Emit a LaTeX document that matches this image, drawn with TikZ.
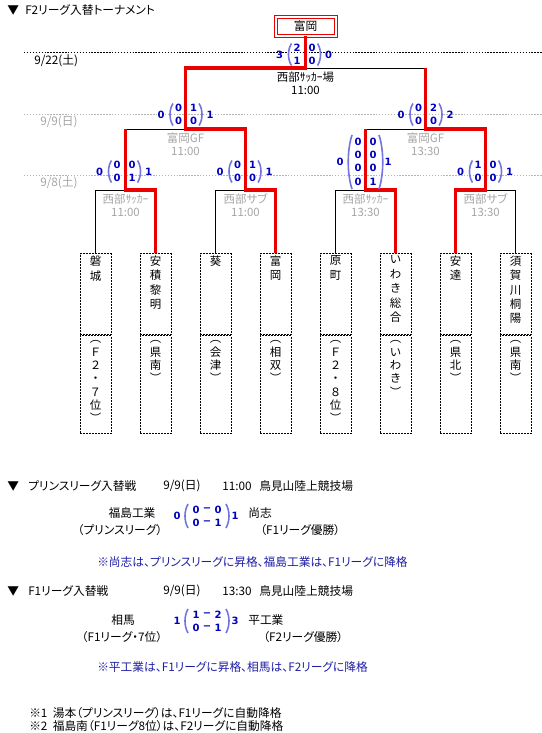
\documentclass[tikz,border=0pt]{standalone}
\usepackage{fontspec}
\setmainfont{Noto Sans CJK JP}[RawFeature=+palt]
\newfontfamily\numfont{DejaVu Sans}
\usetikzlibrary{positioning,calc}
\definecolor{ink}{RGB}{0,0,0}
\definecolor{grey}{RGB}{165,165,165}
\definecolor{faint}{RGB}{180,180,180}
\definecolor{hi}{RGB}{0,0,190}
\definecolor{bow}{RGB}{115,115,225}
\definecolor{note}{RGB}{30,30,165}
\definecolor{winred}{RGB}{235,0,0}

% two-row score: prefix, x, y, left total, row 1 (l r), row 2 (l r), right total
\newcommand{\halfscore}[9]{%
 \node[goal] (#1-l) at ({#2-25},#3) {#4};
 \node[goal] (#1-a) at ({#2-7.5},{#3-6.5}) {#5};
 \node[goal] (#1-b) at ({#2+7.5},{#3-6.5}) {#6};
 \node[goal] (#1-c) at ({#2-7.5},{#3+6.5}) {#7};
 \node[goal] (#1-d) at ({#2+7.5},{#3+6.5}) {#8};
 \node[goal] (#1-r) at ({#2+24},#3) {#9};
 \draw[bow] ({#2-13},{#3-11}) .. controls ({#2-17},{#3-5}) and ({#2-17},{#3+5}) .. ({#2-13},{#3+11});
 \draw[bow] ({#2+13},{#3-11}) .. controls ({#2+17},{#3-5}) and ({#2+17},{#3+5}) .. ({#2+13},{#3+11});
}
% replay score, rows written as "a - b"
\newcommand{\pairscore}[9]{%
 \node[goal] (#1-l) at ({#2-30},#3) {#4};
 \node[goal] (#1-a) at ({#2-11},{#3-6.5}) {#5};
 \node[goal] (#1-m) at (#2,{#3-6.5}) {−};
 \node[goal] (#1-b) at ({#2+11},{#3-6.5}) {#6};
 \node[goal] (#1-c) at ({#2-11},{#3+6.5}) {#7};
 \node[goal] (#1-n) at (#2,{#3+6.5}) {−};
 \node[goal] (#1-d) at ({#2+11},{#3+6.5}) {#8};
 \node[goal] (#1-r) at ({#2+28},#3) {#9};
 \draw[bow] ({#2-19},{#3-12}) .. controls ({#2-23},{#3-5}) and ({#2-23},{#3+5}) .. ({#2-19},{#3+12});
 \draw[bow] ({#2+19},{#3-12}) .. controls ({#2+23},{#3-5}) and ({#2+23},{#3+5}) .. ({#2+19},{#3+12});
}

\begin{document}
\begin{tikzpicture}[x=0.75pt,y=-0.75pt,font=\fontsize{8.8}{10.5}\selectfont,
 every node/.style={inner sep=0pt},
 winner/.style={draw=winred,line width=2.4pt},
 loser/.style={draw=ink,line width=0.75pt},
 dateline/.style={line width=0.75pt,dash pattern=on 1.1pt off 1.1pt},
 namebox/.style={draw=ink,line width=0.75pt,dash pattern=on 1.5pt off 0.75pt,
   minimum width=23.25pt,minimum height=60.75pt,anchor=north},
 areabox/.style={namebox,minimum height=73.5pt},
 vtext/.style={align=center,font=\fontsize{8.6}{10.8}\selectfont},
 vsub/.style={align=center,font=\fontsize{8.6}{10}\selectfont},
 venue/.style={text=grey,align=center,font=\fontsize{8.6}{9.75}\selectfont},
 goal/.style={text=hi,font=\numfont\bfseries\fontsize{7.5}{8}\selectfont},
 bow/.style={draw=bow,line width=1.2pt},
 final/.style={draw=winred,line width=0.75pt,double=white,double distance=1.5pt,
   minimum width=45pt,minimum height=14.25pt}]
\useasboundingbox (0,0) rectangle (542,733);

% heading
\node[anchor=west] (mark) at (7,10) {▼};
\node[anchor=west] (title) at (25,10) {F2リーグ入替トーナメント};

% round days
\draw[dateline,ink] (24,52) -- (542,52);
\draw[dateline,faint] (24,114) -- (542,114);
\draw[dateline,faint] (24,175) -- (542,175);
\node[anchor=west] (d3) at (34,61) {9/22(土)};
\node[anchor=west,text=grey] (d2) at (40,122) {9/9(日)};
\node[anchor=west,text=grey] (d1) at (40,183) {9/8(土)};

% teams
\node[namebox] (t1) at (95.5,253) {};
\node[areabox,below=0pt of t1] (a1) {};
\node[vtext,below=2pt of t1.north] (n1) {磐\\城};
\node[vsub,below=4pt of a1.north] (p1) {︵\\Ｆ\\２\\・\\７\\位\\︶};
\node[namebox] (t2) at (155.5,253) {};
\node[areabox,below=0pt of t2] (a2) {};
\node[vtext,below=2pt of t2.north] (n2) {安\\積\\黎\\明};
\node[vsub,below=4pt of a2.north] (p2) {︵\\県\\南\\︶};
\node[namebox] (t3) at (215.5,253) {};
\node[areabox,below=0pt of t3] (a3) {};
\node[vtext,below=2pt of t3.north] (n3) {葵};
\node[vsub,below=4pt of a3.north] (p3) {︵\\会\\津\\︶};
\node[namebox] (t4) at (275.5,253) {};
\node[areabox,below=0pt of t4] (a4) {};
\node[vtext,below=2pt of t4.north] (n4) {富\\岡};
\node[vsub,below=4pt of a4.north] (p4) {︵\\相\\双\\︶};
\node[namebox] (t5) at (335.5,253) {};
\node[areabox,below=0pt of t5] (a5) {};
\node[vtext,below=2pt of t5.north] (n5) {原\\町};
\node[vsub,below=4pt of a5.north] (p5) {︵\\Ｆ\\２\\・\\８\\位\\︶};
\node[namebox] (t6) at (395.5,253) {};
\node[areabox,below=0pt of t6] (a6) {};
\node[vtext,below=2pt of t6.north] (n6) {い\\わ\\き\\総\\合};
\node[vsub,below=4pt of a6.north] (p6) {︵\\い\\わ\\き\\︶};
\node[namebox] (t7) at (455.5,253) {};
\node[areabox,below=0pt of t7] (a7) {};
\node[vtext,below=2pt of t7.north] (n7) {安\\達};
\node[vsub,below=4pt of a7.north] (p7) {︵\\県\\北\\︶};
\node[namebox] (t8) at (515.5,253) {};
\node[areabox,below=0pt of t8] (a8) {};
\node[vtext,below=2pt of t8.north] (n8) {須\\賀\\川\\桐\\陽};
\node[vsub,below=4pt of a8.north] (p8) {︵\\県\\南\\︶};

% champion
\node[final] (champ) at (305.5,26) {富岡};

% match points
\coordinate (q1) at (125.5,190);
\coordinate (q2) at (245.5,190);
\coordinate (q3) at (365.5,190);
\coordinate (q4) at (485.5,190);
\coordinate (s1) at (185.5,129);
\coordinate (s2) at (425.5,129);
\coordinate (f) at (305.5,68);

% beaten sides
\draw[loser] (t1.north) |- (q1);
\draw[loser] (t3.north) |- (q2);
\draw[loser] (t5.north) |- (q3);
\draw[loser] (t8.north) |- (q4);
\draw[loser] (q1 |- s1) -- (s1);
\draw[loser] (q3 |- s2) -- (s2);
\draw[loser] (f) -- (f -| s2);
% way of the winners
\draw[winner] (t2.north) |- (q1) -- (q1 |- s1);
\draw[winner] (t4.north) |- (q2) |- (s1) |- (f) -- (champ.south);
\draw[winner] (t6.north) |- (q3) -- (q3 |- s2);
\draw[winner] (t7.north) |- (q4) |- (s2) -- (s2 |- f);

% venues
\node[venue,text=ink] (v0) at (305.5,83.5) {西部ｻｯｶｰ場\\11:00};
\node[venue] (v1) at (185.5,144) {富岡GF\\11:00};
\node[venue] (v2) at (425.5,144) {富岡GF\\13:30};
\node[venue] (v3) at (125.5,205.5) {西部ｻｯｶｰ\\11:00};
\node[venue] (v4) at (245.5,205.5) {西部サブ\\11:00};
\node[venue] (v5) at (365.5,205.5) {西部ｻｯｶｰ\\13:30};
\node[venue] (v6) at (485.5,205.5) {西部サブ\\13:30};

% scores
\halfscore{sf}{304.5}{54.5}{3}{2}{0}{1}{0}{0}
\halfscore{sa}{186}{114.5}{0}{0}{1}{0}{0}{1}
\halfscore{sb}{426}{114.5}{0}{0}{2}{0}{0}{2}
\halfscore{qa}{124.5}{171.5}{0}{0}{0}{0}{1}{1}
\halfscore{qb}{245}{171.5}{0}{0}{1}{0}{0}{1}
\halfscore{qd}{485.5}{171.5}{0}{1}{0}{0}{0}{1}
\node[goal] (qc-l) at (340,162) {0};
\foreach \r/\a/\b [count=\k] in {142/0/0,155/0/0,168/0/0,182/0/1}{
 \node[goal] (qc-a\k) at (358,\r) {\a};
 \node[goal] (qc-b\k) at (373,\r) {\b};
}
\node[goal] (qc-r) at (388,162) {1};
\draw[bow] (352,135) .. controls (347,150) and (347,174) .. (352,189);
\draw[bow] (379,135) .. controls (384,150) and (384,174) .. (379,189);

% prince league replay
\node[anchor=west] (mark2) at (7,486) {▼};
\node[anchor=west] (pl) at (28,486) {プリンスリーグ入替戦};
\node[anchor=west] (pl-day) at (163,486) {9/9(日)};
\node[anchor=west] (pl-time) at (222,486) {11:00};
\node[anchor=west] (pl-site) at (259,486) {鳥見山陸上競技場};
\node (pl-a) at (132,513) {福島工業};
\node (pl-aa) at (120,530) {（プリンスリーグ）};
\node[anchor=west] (pl-b) at (248,513) {尚志};
\node[anchor=west] (pl-bb) at (260,530) {（F1リーグ優勝）};
\pairscore{ps}{207}{516}{0}{0}{0}{0}{1}{1}
\node[anchor=west,text=note] (pl-note) at (97,562) {※尚志は、プリンスリーグに昇格、福島工業は、F1リーグに降格};

% F1 league replay
\node[anchor=west] (mark3) at (7,591) {▼};
\node[anchor=west] (fl) at (28,591) {F1リーグ入替戦};
\node[anchor=west] (fl-day) at (163,591) {9/9(日)};
\node[anchor=west] (fl-time) at (222,591) {13:30};
\node[anchor=west] (fl-site) at (259,591) {鳥見山陸上競技場};
\node (fl-a) at (123,620) {相馬};
\node (fl-aa) at (122,637) {（F1リーグ・7位）};
\node[anchor=west] (fl-b) at (248,620) {平工業};
\node[anchor=west] (fl-bb) at (263,637) {（F2リーグ優勝）};
\pairscore{fs}{207}{621}{1}{1}{2}{0}{1}{3}
\node[anchor=west,text=note] (fl-note) at (97,667) {※平工業は、F1リーグに昇格、相馬は、F2リーグに降格};

% footnotes
\node[anchor=west] (fn1) at (29,713) {※1\ \ 湯本（プリンスリーグ）は、F1リーグに自動降格};
\node[anchor=west] (fn2) at (29,726) {※2\ \ 福島南（F1リーグ8位）は、F2リーグに自動降格};
\end{tikzpicture}
\end{document}
